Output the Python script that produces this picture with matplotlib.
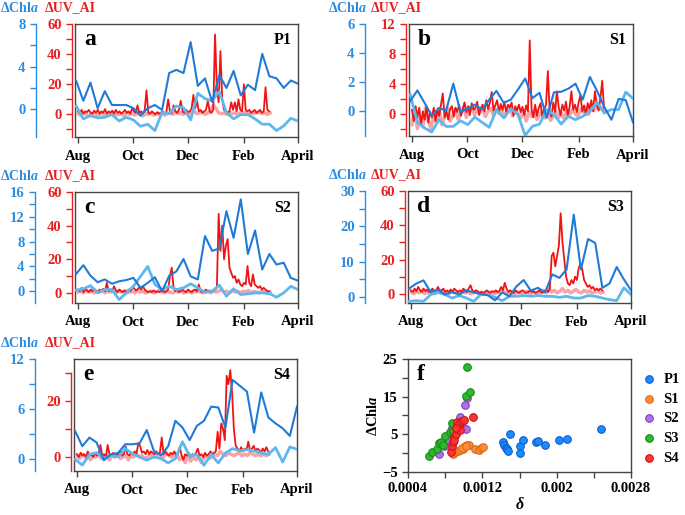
import numpy as np
import pandas as pd
import matplotlib
matplotlib.use('Agg')
import matplotlib.pyplot as plt
import matplotlib.dates as mdates
from matplotlib.ticker import FixedLocator, MultipleLocator

plt.rcParams['font.family'] = ['Liberation Serif', 'DejaVu Serif']
plt.rcParams['font.weight'] = 'bold'
plt.rcParams['axes.labelweight'] = 'bold'
plt.rcParams['mathtext.fontset'] = 'custom'
plt.rcParams['mathtext.rm'] = 'Liberation Serif:bold'
plt.rcParams['mathtext.it'] = 'Liberation Serif:italic:bold'

# ---- time axis ----
month_labels = ['Aug', 'Oct', 'Dec', 'Feb', 'April']
month_dates = ['2019-08-01', '2019-10-01', '2019-12-01', '2020-02-01', '2020-04-01']

# ---- daily dUV_AI (every 2nd day), pale series every 3rd day ----
red_a = [2, 1, 3, 0.5, 2, 1.5, 3, 1, 0.5, 2.5,
         1, 3, 0.5, 2, 1, 3.5, 0.5, 2, 1, 2.5,
         0.5, 3, 1, 2, 0.5, 1.5, 3, 1, 2, 0.5,
         4, 2, 1, 6, 1, 2, 0.5, 3, 16, 1,
         0.5, 2, 1, 0, 1.5, 0.5, 1, 2, 0.5, 1.5,
         10, 2, 1, 6, 2, 1, 3, 9, 2, 1,
         3, 1.5, 2, 4, 13, 4, 9, 2, 3, 1,
         2, 3, 9, 2, 1, 3, 53, 18, 8, 42,
         10, 3, 2, 1, 2, 8, 3, 8, 2, 10,
         3, 2, 20, 3, 2, 3, 1, 2, 3, 1,
         2, 3, 1, 2, 18, 3, 2]
pink_a = [0.5, -0.5, 1, 0, -1, 0.5, 1, -0.5, 0, 1,
          -1, 0.5, 0, 1, -0.5, 0, 0.5, -1, 1, 0,
          0.5, -0.5, 1, 0, -1, 0.5, 0, 1, -0.5, 0.5,
          0, 1, -0.5, 0.5, 1, 0, 1.5, 0.5, 1, 0,
          1.5, 0.5, 1, 2, 0.5, 1, 1.5, 0, 1, 2,
          6, 4, 1, 0.5, 1, 0, 1.5, 0.5, 1, 0,
          1, 0.5, 1.5, 0, 1, 0.5, 1, 1.5, 0.5, 1,
          0, 1]

red_b = [0.5, -1, 1, -0.5, 0.8, -1.5, 0.3, -0.8, 1, -1.2,
         0.2, -0.5, 0.8, -1, 0.5, -0.3, 1.2, 2.7, -0.5, 0.3,
         -0.8, 0.6, 1, -0.4, 0.8, 0.2, 1.2, -0.3, 0.5, 1.5,
         0.2, 1, -0.2, 1.4, 0.5, 0.8, 1.6, -0.2, 0.7, 1.2,
         0.3, 1.8, 0.6, 1.5, 2.9, 0.4, 1.1, 1.8, 0.2, 1.3,
         0.5, 1.6, 0.2, 1.2, 0.8, 1.5, -0.3, 1, 0.4, 1.2,
         0.2, 0.9, -0.2, 1.1, 0.3, 9.8, 0.5, -0.5, 1.2, -0.3,
         0.8, 1.4, -0.6, 0.5, 1.2, 5.7, 0.3, -0.4, 1.5, 0.2,
         3, 0.8, -0.2, 1.2, 0.4, 1.6, -0.3, 0.9, 3, 0.5,
         1.2, 0.2, 1.5, 2.5, 0.3, 1.1, -0.2, 1.4, 0.6, 1.8,
         0.3, 3, 1.2, 0.4, 2, 4.4, 0.8]
pink_b = [-1.5, 0.5, -2, -0.5, -1.8, 0.8, -1, -2, 0, -1.2,
          0.5, -1.5, -0.5, 0.8, -1, -0.3, 0.6, -0.8, 0.2, 0.9,
          -0.5, 0.4, 1, -0.2, 0.6, 0.1, 0.8, -0.4, 0.3, 0.7,
          -0.2, 0.5, 0, 0.6, -0.5, 0.2, 0.8, -0.3, 0.4, 0,
          -0.6, 0.3, -1, 0.2, -0.4, 0.5, -0.8, -0.2, 0.4, -0.6,
          0.2, -0.9, -0.3, 0.3, -0.5, 0.1, -0.7, 0.4, -0.2, 0.5,
          0, -0.4, 0.6, 0.2, 0.8, -0.1, 1, 0.4, 1.2, 0.6,
          0.8, 0.3]

red_c = [2, 1, 3, 0.5, 2, 1.5, 0.5, 2, 1, 2.5,
         1, 0.5, 2, 1, 2.5, 1, 6, 1, 2, 1,
         4, 1.5, 0.5, 2, 1, 0.5, 1.5, 0.5, 2, 1,
         2.5, 3, 1.5, 2, 3.5, 2, 4, 2, 1, 0.5,
         1, 0.5, 1.5, 0.5, 1, 0.5, 1, 1.5, 0.5, 1,
         2, 10, 15, 3, 1, 2, 0.5, 1, 2, 1,
         0.5, 2, 1, 0.5, 1.5, 2, 1, 5, 1, 0.5,
         1, 2, 0.5, 1.5, 0.5, 1, 2, 3, 47, 25,
         40, 20, 28, 32, 15, 12, 9, 10, 6, 8,
         5, 4, 6, 5, 16, 6, 4, 11, 5, 4,
         3, 4, 2, 3, 2, 1, 1]
pink_c = [0.5, 1, 0, 1.5, 0.5, 1, 0, 1, 0.5, 1.5,
          0, 1, 0.5, 1, 0, 1.5, 0.5, 1, 0, 0.5,
          1, 0, 1.5, 0.5, 1, 0, 0.5, 1, 0, 0.5,
          1.5, 0.5, 0, 1, 0.5, 0, 1, 0.5, 1.5, 0,
          0.5, 1, 0, 1.5, 0.5, 1, 0, 0.5, 1, 0,
          1.5, 0.5, 1, 2, 0.5, 1, 0, 1.5, 0.5, 1,
          0, 1, 0.5, 1.5, 0, 1, 0.5, 0, 1, 0.5,
          0, 0.5]

red_d = [2, 1, 3, 1.5, 4, 2, 1, 3, 1.5, 2.5,
         1, 2, 3, 1, 2, 4, 1.5, 2, 3, 1,
         2, 1, 2.5, 1, 3, 2, 1, 2, 1, 3,
         2, 1, 3, 5, 2, 1, 2, 1.5, 0.5, 1,
         0.5, 1, 2, 1, 0.5, 1.5, 1, 2, 1, 1.5,
         4, 2, 6.4, 3, 1, 2, 1, 0.5, 2, 1,
         0.5, 1.5, 2, 1, 0.5, 1, 2, 1, 1.5, 0.5,
         1, 2, 1, 0.5, 1.5, 2, 1, 3, 22, 24,
         16, 22, 28, 47, 30, 20, 10, 6, 5, 8,
         6, 10, 8, 15, 17.5, 14, 8, 6, 4, 5,
         3, 4, 2, 3, 2, 3, 2]
pink_d = [1, 0, 1.5, 0.5, 2, 0, 1, 0.5, 1.5, 0,
          1, 2, 0.5, 1, 0, 1.5, 0.5, 1, 0, 1.5,
          0.5, 1, 0, 0.5, 1.5, 0, 1, 0.5, 0, 1,
          0.5, 0, 1, 0.5, 1.5, 0, 0.5, 1, 0, 0.5,
          1, 0, 0.5, 1.5, 0, 1, 0.5, 0, 1, 2,
          0.5, 3, 1, 2, 0.5, 1.5, 3, 1, 2, 0.5,
          1.5, 2.5, 1, 0.5, 2, 1, 1.5, 0.5, 1, 2,
          0.5, 1]

red_e = [1, 0, 1.5, 0.5, 1, 0, 2, 0.5, 1, 0,
         1.5, 0.5, 1, 4.3, 0.5, 1, 0, 4.3, 1, 0.5,
         1.5, 0, 1, 0.5, 2, 0.5, 1, 3.7, 1, 0.5,
         1.5, 1, 2, 1, 5, 4, 1.5, 2, 1, 2.5,
         1, 2, 1.5, 1, 2, 1, 1.5, 7, 1, 2,
         1, 0.5, 1.5, 1, 2, 0.5, 1, 3.7, 0.5, -1,
         1, 0.5, 1.5, 0, 1, 0.5, 1.5, 3, 0.5, 1,
         0, 1.5, 0.5, 1, 2, 1, 1.5, 2, 9, 3,
         12, 10, 6, 29, 26, 31, 23, 10, 4, 3,
         2, 3.5, 2, 3, 2.5, 5.5, 2, 3, 4, 2,
         3, 2.5, 1.5, 3, 2, 3.5, 2]
pink_e = [0.5, -0.5, 1, 0, 0.5, -1, 0.5, 0, 1, -0.5,
          0, 0.5, -1, 0.5, 0, 1, -0.5, 0, 0.5, -1,
          0.5, 0, 1, 0, 0.5, -0.5, 0, 1, 0.5, 0,
          1, 0.5, 0, 1.5, 0.5, 0, 1, 0.5, -1, 0,
          -2, 0.5, -1.5, 0, -1, 0.5, -2, 0, 0.5, -0.5,
          0, 1, 0.5, 2, 1, 0.5, 1.5, 1, 0.5, 1,
          1.5, 0.5, 1, 0.5, 1.5, 1, 0.5, 1, 0.5, 1,
          0.5, 1]

# ---- 8-day dChla (dark) and second blue series (light) ----
dark_a = [2.66, 0.8, 2.5, 0.1, 1.7, 0.4, 0.4, 0.4, 0.1, -0.6, 0.1, 0.4, -0.06, 3.4, 3.7, 3.4,
          6.3, 2.2, 2.9, 0.7, 3.2, 2.0, 3.6, 1.3, 2.3, 1.8, 5.2, 3.1, 2.9, 2.0, 2.7, 2.4]
light_a = [0.3, -0.9, -0.6, -0.8, -0.75, -0.5, -1.1, -0.75, -1.0, -1.6, -1.4, -2.0, -0.3, -0.4, 0.3, 0.15,
           -1.0, 1.5, 1.0, 0.8, 1.65, -0.3, -0.9, -0.5, -0.5, -0.9, -1.4, -1.4, -2.0, -1.55, -0.85, -1.1]
dark_b = [0.7, 1.43, 0.58, -0.3, 0.23, 0.05, 1.9, -0.05, 0.18, 0.46, 0.12, 0.8, 1.4, 0.58, 0.8, 1.5,
          2.25, 0.9, 1.27, -0.45, 1.3, 1.34, 1.55, 1.9, 0.8, 2.36, 1.4, 0.3, -0.58, 0.85, 0.76, -0.76]
light_b = [1.15, -0.76, -1.15, -1.43, -0.58, -1.04, -1.04, -0.65, -0.92, -0.4, -0.76, -1.1, 0.12, -0.46, 0.16, -0.23,
           -1.66, -1.04, -0.88, 0.12, -0.23, -0.88, -0.35, -0.58, -0.35, 0.0, 0.62, -0.12, 0.12, 0.12, 1.32, 0.88]
dark_c = [2.8, 4.2, 2.5, 1.45, 1.9, 1.2, 1.6, 1.8, 2.15, 0.54, 1.35, 2.26, 0.0, 2.5, 3.2, 5.2,
          2.4, 1.9, 8.9, 6.5, 6.9, 12.9, 8.6, 14.8, 6.0, 9.8, 3.5, 6.0, 4.3, 4.6, 2.15, 1.7]
light_c = [0.16, 0.38, 0.9, -0.27, 0.27, 0.27, -1.35, -0.27, 0.8, 2.4, 4.0, 1.1, 0.27, 0.8, 0.27, 0.54,
           1.2, 0.54, -0.16, 0.0, 0.97, -0.8, 0.38, -0.54, -0.43, -0.27, -0.27, -0.38, -0.97, -0.27, 0.8, 0.27]
dark_d = [2.4, 3.8, 4.7, 1.4, 2.1, 0.7, 1.4, 0.7, 1.9, 1.3, 0.86, 0.5, -0.95, 1.3, 0.2, 3.0,
          4.8, 1.8, 2.6, 1.3, 6.4, 5.4, 7.8, 23.3, 7.8, 16.4, 15.3, 2.6, 3.8, 8.5, 5.0, 1.9]
light_d = [-1.24, -1.05, -1.24, 0.67, 1.3, 0.67, -0.3, 0.4, -0.3, -1.24, 0.67, 0.67, -0.1, -1.05, 0.2, 0.2,
           0.4, 0.2, 0.4, 0.2, 0.2, -0.1, 0.2, -0.3, -0.3, 0.4, 0.2, -0.3, -0.76, -1.05, 2.6, 0.67]
dark_e = [3.37, 1.57, 2.6, 2.0, -0.12, 0.6, 0.76, 1.8, 1.8, 1.9, 3.5, 1.0, 0.48, 1.57, 4.6, 3.8,
          2.3, 4.0, 4.6, 6.3, 6.2, 3.8, 9.5, 8.8, 8.1, 3.2, 8.0, 5.0, 4.3, 3.7, 2.8, 6.3]
light_e = [0.0, -0.7, 0.6, 0.8, 0.08, 0.48, 0.28, 1.28, 0.68, 0.28, -0.12, 0.28, 0.08, -0.44, 0.08, 2.1,
           0.36, 0.6, -0.72, 0.6, -0.44, 0.76, 1.28, 1.0, 1.16, 1.0, 0.76, 0.6, 1.4, -0.32, 1.48, 1.2]

# ---- panel f scatter: delta vs dChla ----
sites = ['P1', 'S1', 'S2', 'S3', 'S4']
delta_p1 = [0.00142, 0.001435, 0.00145, 0.001465, 0.00148, 0.0015, 0.001607, 0.001607, 0.001643,
            0.001776, 0.001797, 0.001872, 0.00203, 0.002116, 0.002478]
chla_p1 = [3.0, 2.2, 1.5, 1.0, 0.5, 5.06, 1.95, 0.08, 3.46, 2.84, 3.2, 2.1, 3.46, 3.73, 6.4]
delta_s1 = [0.00088, 0.00091, 0.00094, 0.00096, 0.00099, 0.00101, 0.00103, 0.00106, 0.00112,
            0.00116, 0.00119, 0.00121, 0.00098, 0.00102]
chla_s1 = [-0.1, 0.3, 0.5, 0.8, 1.2, 1.8, 2.1, 2.3, 1.0, 0.8, 1.4, 1.6, 1.5, 2.0]
delta_s2 = [0.00073, 0.00079, 0.00082, 0.00084, 0.00087, 0.00089, 0.00093, 0.00096, 0.00098,
            0.00102, 0.00103, 0.00101]
chla_s2 = [-0.2, 1.8, 2.3, 3.6, 6.6, 5.0, 8.0, 9.7, 7.2, 6.4, 14.6, 12.8]
delta_s3 = [0.00063, 0.00066, 0.00071, 0.00073, 0.000755, 0.00078, 0.0008, 0.00085, 0.00087,
            0.00088, 0.00102, 0.00107, 0.00103]
chla_s3 = [-0.8, 0.3, 1.2, 2.6, 3.0, 2.2, 4.6, 5.5, 7.9, 5.8, 15.3, 16.35, 23.0]
delta_s4 = [0.00086, 0.00087, 0.00088, 0.00089, 0.0009, 0.00092, 0.00093, 0.00095, 0.00096,
            0.00098, 0.001, 0.0011, 0.00092]
chla_s4 = [0.34, 1.8, 2.85, 4.3, 3.6, 5.0, 8.3, 7.8, 6.1, 8.5, 8.8, 9.5, 6.8]

# colours
RED, PINK = '#f01414', '#f5a5a5'
DBLUE, LBLUE = '#1f7ad8', '#5db8ef'
AX_BLUE, AX_RED = '#2b8ce2', '#e82020'
FRAME = '#444444'
site_face = ['#1a8cff', '#ff8c3c', '#b26ee8', '#2eb82e', '#ff3333']
site_edge = ['#0f5fcc', '#e06a14', '#8444c4', '#1a8a1a', '#cc1414']

TICK_FS = 10.5

W, H = 685, 515
fig = plt.figure(figsize=(W / 100, H / 100), dpi=100)


def px_rect(l, t, r, b):
    return [l / W, 1 - b / H, (r - l) / W, (b - t) / H]


t_start = pd.Timestamp('2019-08-01')
x_left = t_start - pd.Timedelta(days=3.3)
x_right = pd.Timestamp('2020-04-01')


def series_panel(frame, letter, site, red, pink, dark, light,
                 red_lim, red_major, red_minor, blue_lim, blue_major, blue_minor,
                 blue_off, label_x, red_bounds=None):
    l, t, r, b = frame
    ax = fig.add_axes(px_rect(l, t, r, b))
    ax.set_xlim(x_left, x_right)
    ax.set_yticks([])
    for s in ax.spines.values():
        s.set_color(FRAME)
        s.set_linewidth(1.0)
    ax.xaxis.set_major_locator(FixedLocator(mdates.date2num(pd.to_datetime(month_dates))))
    ax.set_xticklabels(month_labels)
    ax.tick_params(axis='x', direction='out', length=4, width=1, pad=5,
                   labelsize=TICK_FS, color=FRAME)

    red_dates = pd.date_range(t_start, periods=len(red), freq='2D')
    pink_dates = pd.date_range(t_start, periods=len(pink), freq='3D')
    blue_dates = pd.date_range('2019-07-30', x_right, periods=len(dark))

    # red axis (dUV_AI)
    axr = ax.twinx()
    axr.yaxis.tick_left()
    for k in ['right', 'top', 'bottom']:
        axr.spines[k].set_visible(False)
    axr.spines['left'].set_visible(True)
    axr.spines['left'].set_position(('outward', 2))
    axr.spines['left'].set_color(AX_RED)
    axr.spines['left'].set_linewidth(1.0)
    if red_bounds is not None:
        axr.spines['left'].set_bounds(*red_bounds)
    axr.plot(pink_dates, pink, color=PINK, lw=2.5, zorder=1)
    axr.plot(red_dates, red, color=RED, lw=1.3, zorder=2)
    axr.set_ylim(*red_lim)
    axr.yaxis.set_major_locator(FixedLocator(red_major))
    axr.yaxis.set_minor_locator(FixedLocator(red_minor))
    axr.tick_params(axis='y', which='both', direction='out', colors=AX_RED,
                    labelcolor=AX_RED, labelsize=TICK_FS, width=1, length=4)

    # blue axis (dChla)
    axb = ax.twinx()
    axb.yaxis.tick_left()
    for k in ['right', 'top', 'bottom']:
        axb.spines[k].set_visible(False)
    axb.spines['left'].set_visible(True)
    axb.spines['left'].set_position(('outward', blue_off * 0.72))
    axb.spines['left'].set_color(AX_BLUE)
    axb.spines['left'].set_linewidth(1.0)
    axb.plot(blue_dates, light, color=LBLUE, lw=2.0)
    axb.plot(blue_dates, dark, color=DBLUE, lw=1.5)
    axb.set_ylim(*blue_lim)
    axb.yaxis.set_major_locator(FixedLocator(blue_major))
    axb.yaxis.set_minor_locator(FixedLocator(blue_minor))
    axb.tick_params(axis='y', which='both', direction='out', colors=AX_BLUE,
                    labelcolor=AX_BLUE, labelsize=TICK_FS, width=1, length=4)

    # titles above the axes
    fig.text(label_x[0] / W, 1 - (t - 16) / H, r'ΔChl$\mathit{a}$', color=AX_BLUE,
             fontsize=10, ha='left', va='center')
    fig.text(label_x[1] / W, 1 - (t - 16) / H, 'ΔUV_AI', color=AX_RED,
             fontsize=10, ha='left', va='center')
    ax.text(0.04, 0.86, letter, transform=ax.transAxes, fontsize=17,
            ha='left', va='center')
    ax.text(0.97, 0.86, site, transform=ax.transAxes, fontsize=11.5,
            ha='right', va='center')
    return ax


series_panel((75, 24, 298, 137), 'a', 'P1', red_a, pink_a, dark_a, light_a,
             (-15, 60), [0, 20, 40, 60], [-10, 10, 30, 50],
             (-2.6, 8), [0, 4, 8], [2, 6], 39, (0, 45))
series_panel((409, 24, 633, 136), 'b', 'S1', red_b, pink_b, dark_b, light_b,
             (-3, 12), [0, 4, 8, 12], [-2, 2, 6, 10],
             (-1.7, 6), [0, 2, 4, 6], [], 44, (328, 371))
series_panel((75, 192, 298, 303), 'c', 'S2', red_c, pink_c, dark_c, light_c,
             (-6, 60), [0, 20, 40, 60], [10, 30, 50],
             (-1.9, 16), [0, 4, 8, 12, 16], [2, 6, 10, 14], 40, (0, 45))
series_panel((408, 191, 631, 303), 'd', 'S3', red_d, pink_d, dark_d, light_d,
             (-5.4, 60), [0, 20, 40, 60], [10, 30, 50],
             (-1.7, 30), [0, 10, 20, 30], [5, 15, 25], 43, (328, 371))
series_panel((74, 359, 297, 471), 'e', 'S4', red_e, pink_e, dark_e, light_e,
             (-5, 35), [0, 20], [10, 30],
             (-1.4, 12), [0, 6, 12], [3, 9], 39, (0, 45), red_bounds=(-5, 30))

# ---- panel f ----
axf = fig.add_axes(px_rect(408, 359, 631, 472))
deltas = [delta_p1, delta_s1, delta_s2, delta_s3, delta_s4]
chlas = [chla_p1, chla_s1, chla_s2, chla_s3, chla_s4]
for name, xs, ys, fc, ec in zip(sites, deltas, chlas, site_face, site_edge):
    axf.scatter(xs, ys, s=30, facecolor=fc, edgecolor=ec, linewidth=0.8, label=name, zorder=3)
axf.set_xlim(0.0004, 0.0028)
axf.set_ylim(-5, 25)
axf.set_xticks([0.0004, 0.0012, 0.002, 0.0028])
axf.set_xticklabels(['0.0004', '0.0012', '0.002', '0.0028'])
axf.xaxis.set_minor_locator(FixedLocator([0.0008, 0.0016, 0.0024]))
axf.set_yticks([-5, 5, 15, 25])
axf.yaxis.set_minor_locator(MultipleLocator(5))
axf.tick_params(which='both', direction='out', length=4, width=1, labelsize=TICK_FS, color=FRAME)
for s in axf.spines.values():
    s.set_color(FRAME)
    s.set_linewidth(1.0)
axf.set_ylabel(r'ΔChl$\mathit{a}$', fontsize=10.5, labelpad=1)
axf.set_xlabel('δ', fontstyle='italic', fontsize=11.5, labelpad=1)
axf.text(0.04, 0.86, 'f', transform=axf.transAxes, fontsize=17, ha='left', va='center')
axf.legend(loc='upper left', bbox_to_anchor=(1.04, 0.88), frameon=False,
           handletextpad=0.4, labelspacing=0.45, borderaxespad=0, borderpad=0,
           handlelength=1.2, fontsize=10.5)

fig.savefig('out.png', dpi=100)
